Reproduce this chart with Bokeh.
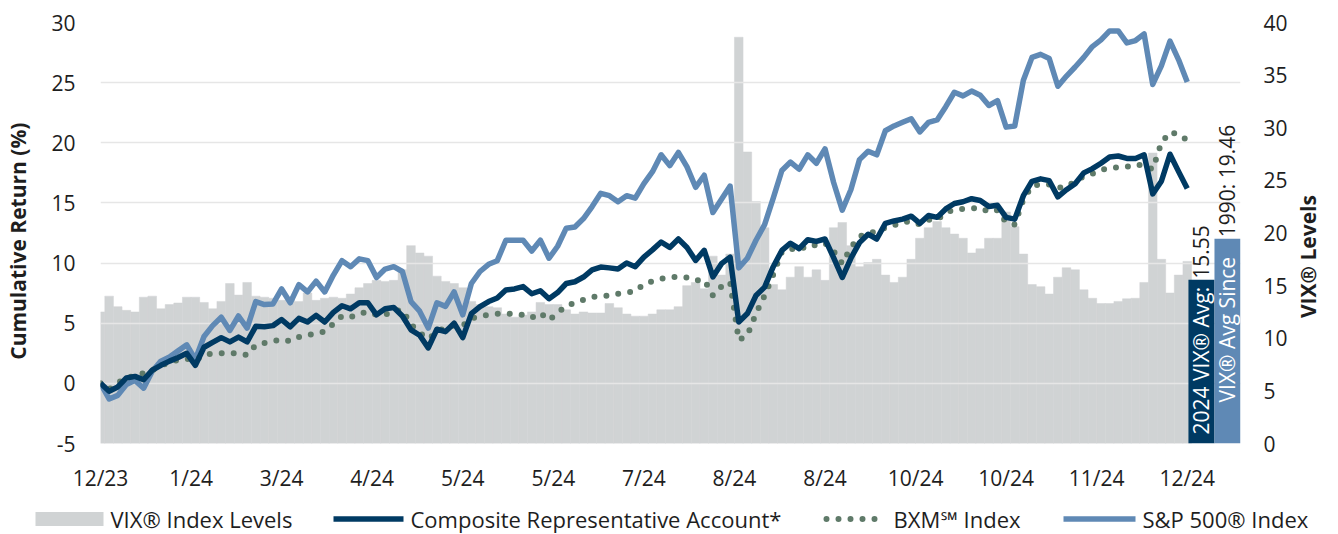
import math
from bokeh.plotting import figure
from bokeh.models import Range1d, LinearAxis, FixedTicker
from bokeh.embed import file_html
from bokeh.resources import INLINE
from bokeh.core.properties import value

# ---- data (one value every 2 trading days) ----
sp500 = [0.0, -1.3, -1.0, -0.1, 0.25, -0.4, 1.0, 1.85, 2.2, 2.7, 3.2, 2.0, 3.9, 4.8, 5.5, 4.4,
         5.6, 4.6, 6.8, 6.55, 6.6, 7.85, 6.7, 8.2, 7.6, 8.5, 7.6, 9.0, 10.2, 9.7, 10.35, 10.2,
         8.8, 9.5, 9.7, 9.3, 6.8, 6.0, 4.6, 6.7, 6.4, 7.6, 5.7, 8.3, 9.3, 9.9, 10.2, 11.9,
         11.9, 11.9, 11.0, 11.9, 10.4, 11.4, 12.9, 13.0, 13.7, 14.7, 15.8, 15.6, 15.1, 15.6, 15.4, 16.6,
         17.6, 19.0, 18.1, 19.2, 18.0, 16.3, 17.3, 14.2, 15.3, 16.4, 9.6, 10.4, 11.9, 13.2, 15.4, 17.7,
         18.4, 17.8, 19.0, 18.3, 19.5, 16.7, 14.4, 16.1, 18.6, 19.3, 19.0, 21.0, 21.4, 21.7, 22.0, 20.9,
         21.7, 21.9, 23.0, 24.2, 23.9, 24.3, 23.95, 23.1, 23.5, 21.3, 21.4, 25.2, 27.1, 27.35, 27.0, 24.7,
         25.55, 26.3, 27.1, 28.0, 28.55, 29.3, 29.3, 28.3, 28.5, 29.05, 24.85, 26.4, 28.45, 26.9, 25.05]

composite = [0.0, -0.65, -0.3, 0.45, 0.58, 0.3, 1.1, 1.5, 1.85, 2.15, 2.5, 1.5, 3.0, 3.4, 3.8, 3.45,
             3.85, 3.45, 4.74, 4.7, 4.8, 5.3, 4.7, 5.4, 5.1, 5.65, 5.1, 5.9, 6.45, 6.2, 6.7, 6.7,
             5.7, 6.2, 6.3, 5.6, 4.45, 4.0, 2.95, 4.5, 4.3, 5.0, 3.8, 5.8, 6.38, 6.8, 7.1, 7.77,
             7.85, 8.05, 7.45, 7.7, 7.04, 7.55, 8.3, 8.45, 8.84, 9.43, 9.67, 9.6, 9.5, 10.0, 9.7, 10.5,
             11.1, 11.75, 11.3, 12.0, 11.3, 10.22, 11.06, 8.85, 9.95, 10.5, 5.1, 5.8, 7.3, 8.0, 9.7, 11.05,
             11.65, 11.2, 11.94, 11.8, 12.0, 10.45, 8.8, 10.4, 11.7, 12.4, 12.0, 13.3, 13.5, 13.65, 13.9, 13.3,
             13.95, 13.8, 14.5, 14.95, 15.1, 15.35, 15.2, 14.7, 14.8, 13.8, 13.65, 15.6, 16.8, 17.0, 16.85, 15.5,
             16.1, 16.6, 17.5, 17.85, 18.3, 18.81, 18.9, 18.7, 18.7, 19.0, 15.75, 16.8, 19.05, 17.6, 16.2]

bxm = [0.0, -0.5, 0.05, 0.45, 0.65, 0.85, 1.1, 1.45, 1.75, 1.95, 2.05, 1.9, 2.4, 2.45, 2.5, 2.5,
       2.5, 2.35, 3.2, 3.35, 3.5, 3.65, 3.5, 3.85, 4.0, 4.15, 4.3, 4.95, 5.6, 5.5, 5.8, 5.95,
       5.7, 5.7, 6.0, 6.1, 4.9, 4.2, 3.7, 4.25, 4.68, 4.8, 4.8, 5.4, 5.6, 5.7, 5.79, 5.79,
       5.78, 5.7, 5.45, 5.85, 5.24, 5.85, 6.45, 6.7, 6.95, 7.18, 7.23, 7.3, 7.45, 7.55, 7.65, 8.25,
       8.5, 8.7, 8.78, 8.88, 8.8, 8.55, 8.6, 7.3, 8.05, 8.4, 3.6, 4.0, 5.8, 7.3, 9.03, 10.95,
       11.2, 11.06, 11.5, 11.47, 11.66, 11.0, 9.95, 11.3, 12.2, 12.5, 12.6, 12.94, 13.15, 13.4, 13.45, 13.2,
       13.6, 13.6, 14.2, 14.44, 14.5, 14.55, 14.6, 14.25, 14.4, 13.4, 13.2, 15.3, 16.4, 16.54, 16.54, 16.25,
       16.35, 16.8, 17.2, 17.43, 17.75, 17.9, 17.95, 18.0, 18.2, 18.1, 17.8, 20.0, 20.9, 20.7, 20.2]

vix = [12.5, 14.0, 13.0, 12.65, 12.5, 13.9, 14.0, 12.8, 13.2, 13.35, 13.9, 13.9, 13.4, 12.8, 13.5, 15.2,
       14.1, 15.3, 14.0, 13.9, 13.8, 13.6, 13.9, 13.5, 14.3, 13.6, 13.8, 13.9, 13.8, 14.2, 14.8, 15.2,
       15.5, 15.4, 15.5, 16.5, 18.8, 18.1, 17.8, 15.9, 15.4, 15.2, 14.8, 13.5, 13.2, 13.0, 12.9, 12.3,
       12.0, 12.2, 12.5, 13.4, 13.2, 13.2, 12.7, 12.3, 12.5, 12.4, 12.4, 13.3, 12.9, 12.3, 12.1, 12.1,
       12.3, 12.7, 12.7, 13.0, 15.0, 15.3, 14.7, 17.8, 16.0, 18.0, 38.6, 27.7, 23.0, 20.5, 15.1, 14.6,
       15.8, 16.8, 15.8, 16.5, 15.5, 20.5, 21.0, 18.8, 16.8, 17.2, 17.5, 16.0, 15.3, 15.8, 17.5, 19.5,
       20.5, 21.1, 20.5, 19.9, 19.5, 18.1, 18.5, 19.5, 19.5, 22.0, 20.6, 18.0, 15.1, 14.9, 14.2, 15.8,
       16.7, 16.5, 14.6, 13.8, 13.3, 13.3, 13.5, 13.75, 13.8, 15.3, 27.6, 17.5, 14.3, 16.0, 17.3]

vix_avg_2024 = 15.55
vix_avg_1990 = 19.46

tick_pos = [0, 21, 42, 63, 84, 105, 126, 147, 168, 189, 210, 231, 252]
tick_labels = ["12/23", "1/24", "3/24", "4/24", "5/24", "5/24", "7/24", "8/24", "8/24",
               "10/24", "10/24", "11/24", "12/24"]
left_ticks = [-5, 0, 5, 10, 15, 20, 25, 30]
right_ticks = [0, 5, 10, 15, 20, 25, 30, 35, 40]

legend_labels = ["VIX® Index Levels", "Composite Representative Account*",
                 "BXM\u2120 Index", "S&P 500® Index"]

day = [2 * i for i in range(len(vix))]

FONT = "Open Sans"
TXT = "#1e1e1e"
NAVY = "#003a63"
LBLUE = "#5f89b5"
GREEN = "#5f7a69"
GRAY = "#d0d3d4"
NB = "\u00a0"

p = figure(width=1338, height=500, frame_width=1140, frame_height=421,
           min_border_left=100, min_border_right=98, min_border_top=22, min_border_bottom=57,
           x_range=Range1d(0, 264.35), y_range=Range1d(-5, 30),
           output_backend="svg", toolbar_location=None)
p.extra_y_ranges = {"vix": Range1d(0, 40)}
p.outline_line_color = None
p.background_fill_color = "white"
p.border_fill_color = "white"

# VIX bars
bars = p.vbar(x=day, top=vix, bottom=0, width=2, y_range_name="vix",
              fill_color=GRAY, line_color=GRAY, line_width=0.5, level="image")

# average boxes
p.vbar(x=[255.3], top=[vix_avg_2024], bottom=0, width=6.04, y_range_name="vix",
       fill_color=NAVY, line_color=None)
p.vbar(x=[261.33], top=[vix_avg_1990], bottom=0, width=6.03, y_range_name="vix",
       fill_color=LBLUE, line_color=None)

box_font = dict(angle=math.pi / 2, text_align="left", text_baseline="middle",
                text_font=value(FONT), text_font_size="21px", y_range_name="vix")
p.text(x=[255.3], y=[0.86], text=["2024 VIX® Avg:"], text_color="white", **box_font)
p.text(x=[255.3], y=[15.65], text=["%.2f" % vix_avg_2024], text_color=TXT, **box_font)
p.text(x=[261.33], y=[3.9], text=["VIX® Avg Since"], text_color="white", **box_font)
p.text(x=[261.33], y=[19.6], text=["1990: %.2f" % vix_avg_1990], text_color=TXT, **box_font)

# lines
l_sp = p.line(day, sp500, line_color=LBLUE, line_width=5.5, line_join="round")
l_bxm = p.line(day, bxm, line_color=GREEN, line_width=6, line_dash="0 12", line_cap="round")
l_comp = p.line(day, composite, line_color=NAVY, line_width=5.5, line_join="round")

# axes
xa = p.xaxis[0]
yl = p.yaxis[0]
ax2 = LinearAxis(y_range_name="vix", ticker=FixedTicker(ticks=right_ticks))
p.add_layout(ax2, "right")
for ax in [xa, yl, ax2]:
    ax.axis_line_color = None
    ax.major_tick_line_color = None
    ax.minor_tick_line_color = None
    ax.major_tick_out = 0
    ax.major_tick_in = 0
    ax.minor_tick_out = 0
    ax.minor_tick_in = 0
    ax.major_label_text_font = FONT
    ax.major_label_text_font_size = "21px"
    ax.major_label_text_color = TXT

xa.ticker = FixedTicker(ticks=tick_pos)
xa.major_label_overrides = dict(zip(tick_pos, tick_labels))
xa.major_label_standoff = 20

yl.ticker = FixedTicker(ticks=left_ticks)
yl.major_label_overrides = {-5: "-5"}
yl.major_label_standoff = 25
yl.axis_label = "Cumulative Return (%)" + NB * 3
yl.axis_label_text_font = FONT
yl.axis_label_text_font_style = "bold"
yl.axis_label_text_font_size = "21px"
yl.axis_label_text_color = TXT
yl.axis_label_standoff = 16

ax2.major_label_standoff = 23
ax2.axis_label_orientation = math.pi / 2
if "axis_label_align" in ax2.properties():
    ax2.axis_label_align = "start"
    ax2.axis_label = NB * 23 + "VIX® Levels"
else:
    ax2.axis_label = "VIX® Levels"
ax2.axis_label_text_font = FONT
ax2.axis_label_text_font_style = "bold"
ax2.axis_label_text_font_size = "21px"
ax2.axis_label_text_color = TXT
ax2.axis_label_standoff = 17

p.xgrid.grid_line_color = None
p.ygrid.grid_line_color = "#e6e6e6"
p.ygrid.grid_line_width = 1.5

# ---- legend strip (its own root, in page pixel coordinates) ----
lg = figure(width=1338, height=34, x_range=Range1d(0, 1338), y_range=Range1d(0, 34),
            min_border=0, x_axis_location=None, y_axis_location=None,
            output_backend="svg", toolbar_location=None)
lg.grid.visible = False
lg.outline_line_color = None
lg.background_fill_color = "white"
lg.border_fill_color = "white"
yc = 15.5
lg.quad(left=[35], right=[103], bottom=[yc - 7], top=[yc + 7], fill_color=GRAY, line_color=None)
lg.line([333, 403], [yc, yc], line_color=NAVY, line_width=5.5)
lg.line([826, 884], [yc, yc], line_color=GREEN, line_width=6, line_dash="0 12", line_cap="round")
lg.line([1063, 1135], [yc, yc], line_color=LBLUE, line_width=5.5)
lg.text(x=[110, 410, 893, 1142], y=[yc] * 4, text=legend_labels,
        text_align="left", text_baseline="middle", text_color=TXT,
        text_font=value(FONT), text_font_size="22px")

open("out.html", "w").write(file_html([p, lg], INLINE))
